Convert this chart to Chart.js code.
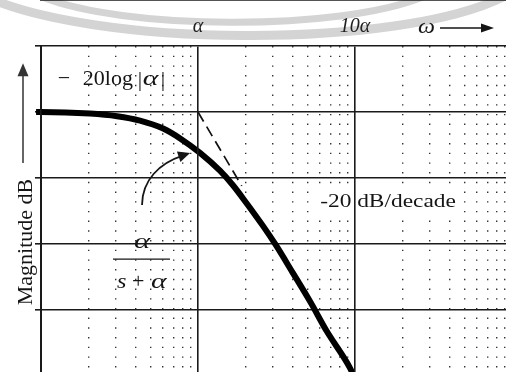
<!DOCTYPE html>
<html>
<head>
<meta charset="utf-8">
<script src="https://cdn.jsdelivr.net/npm/chart.js@4.4.1/dist/chart.umd.min.js"></script>
<style>
  html, body { margin: 0; padding: 0; background: #fff; overflow: hidden; }
  #wrap { width: 506px; height: 372px; }
</style>
</head>
<body>
<div id="wrap"><canvas id="bode" width="506" height="372"></canvas></div>
<script>
// frequency in multiples of alpha, magnitude in dB
const omega = [0.093, 0.1, 0.205, 0.305, 0.427, 0.6, 0.77, 1.03, 1.38, 1.67, 2.05, 2.6, 3.1, 4.0, 5.2, 6.6, 9.3, 9.9];
const magDb = [0, 0, -0.12, -0.32, -0.65, -1.25, -2.0, -3.1, -4.45, -5.55, -6.95, -8.65, -10.0, -12.15, -14.4, -16.6, -19.4, -20.1];

// straight-line asymptote after the corner
const asymOmega = [1, 1.9];
const asymDb = [0, -5.6];

// axis ticks
const majorTicks = [0.1, 1, 10];
const minorTicks = [0.2, 0.3, 0.4, 0.5, 0.6, 0.7, 0.8, 0.9,
                    2, 3, 4, 5, 6, 7, 8, 9,
                    20, 30, 40, 50, 60, 70, 80, 90];
const tickText = { 1: 'α', 10: '10α' };
const dbTicks = [5, 0, -5, -10, -15];

const SERIF = '"Liberation Serif", "Times New Roman", Times, serif';
const INK = '#151515';

function drawText(c, str, x, y, size, italic, sx) {
  c.save();
  c.font = (italic ? 'italic ' : '') + size + 'px ' + SERIF;
  c.translate(x, y);
  c.scale(sx || 1, 1);
  c.fillText(str, 0, 0);
  c.restore();
}

function arrowHead(c, tipX, tipY, fromX, fromY, len, half) {
  const a = Math.atan2(tipY - fromY, tipX - fromX);
  c.beginPath();
  c.moveTo(tipX, tipY);
  c.lineTo(tipX - len * Math.cos(a) + half * Math.sin(a), tipY - len * Math.sin(a) - half * Math.cos(a));
  c.lineTo(tipX - len * Math.cos(a) - half * Math.sin(a), tipY - len * Math.sin(a) + half * Math.cos(a));
  c.closePath();
  c.fill();
}

const decor = {
  id: 'decor',
  beforeDraw(chart) {
    const c = chart.ctx;
    c.save();
    c.fillStyle = '#fff';
    c.fillRect(0, 0, chart.width, chart.height);
    // faint rings across the header
    c.strokeStyle = '#d4d4d4';
    c.lineCap = 'butt';
    c.lineWidth = 9;
    c.beginPath();
    c.moveTo(-20, -6);
    c.bezierCurveTo(90, 48, 400, 50, 505, -4);
    c.stroke();
    c.lineWidth = 7;
    c.beginPath();
    c.moveTo(40, -4);
    c.bezierCurveTo(120, 30, 340, 32, 425, -4);
    c.stroke();
    c.restore();
  },
  beforeDatasetsDraw(chart) {
    // blank out the dotted grid behind the slope label
    const xs = chart.scales.x, ys = chart.scales.y, c = chart.ctx;
    const x = xs.getPixelForValue(6.0), y = ys.getPixelForValue(-7.2);
    c.save();
    c.fillStyle = '#fff';
    c.fillRect(x - 4, y - 21, 145, 27);
    c.restore();
  },
  afterDraw(chart) {
    const xs = chart.scales.x, ys = chart.scales.y, c = chart.ctx;
    const area = chart.chartArea;
    const at = (w, db) => [xs.getPixelForValue(w), ys.getPixelForValue(db)];
    c.save();
    c.fillStyle = INK;
    c.strokeStyle = INK;

    // -20 log|alpha|
    let [x, y] = at(0.128, 2.05);
    drawText(c, '−', x, y, 22);
    drawText(c, '20', x + 25, y, 22);
    drawText(c, 'log', x + 47, y, 22);
    drawText(c, '|', x + 80, y + 1, 22);
    drawText(c, 'α', x + 85, y, 22, true, 1.35);
    drawText(c, '|', x + 103, y + 1, 22);

    // transfer function alpha / (s + alpha)
    [x, y] = at(0.44, -11.15);
    c.textAlign = 'center';
    drawText(c, 'α', x, y - 11, 22, true, 1.4);
    c.textAlign = 'left';
    c.lineWidth = 1.3;
    c.beginPath(); c.moveTo(x - 29, y); c.lineTo(x + 28, y); c.stroke();
    drawText(c, 's', x - 25, y + 29, 22, true, 1.1);
    drawText(c, '+', x - 10, y + 29, 22);
    drawText(c, 'α', x + 9, y + 29, 22, true, 1.35);

    // curved pointer onto the magnitude curve
    const [tx, ty] = at(0.44, -7.05);
    const [hx, hy] = at(0.89, -3.1);
    c.lineWidth = 1.8;
    c.beginPath();
    c.moveTo(tx, ty);
    c.bezierCurveTo(tx, ty - 25, tx + 18, ty - 42, hx - 8, hy + 3);
    c.stroke();
    arrowHead(c, hx, hy, tx + 18, ty - 42, 12, 5.5);

    // slope label
    [x, y] = at(6.0, -7.2);
    drawText(c, '-20', x, y, 18, false, 1.3);
    drawText(c, 'dB/decade', x + 37, y, 18, false, 1.3);

    // vertical axis caption with arrow
    const capX = area.left - 9;
    c.save();
    c.translate(capX, ys.getPixelForValue(-9.85));
    c.rotate(-Math.PI / 2);
    c.textAlign = 'center';
    drawText(c, 'Magnitude dB', 0, 0, 22);
    c.restore();
    const ax = area.left - 18;
    const yBot = ys.getPixelForValue(-3.86), yTip = ys.getPixelForValue(3.7);
    c.strokeStyle = '#333';
    c.fillStyle = '#333';
    c.lineWidth = 1.5;
    c.beginPath(); c.moveTo(ax, yBot); c.lineTo(ax, yTip + 10); c.stroke();
    arrowHead(c, ax, yTip, ax, yBot, 13, 5.5);

    // omega with arrow along the top
    c.fillStyle = INK;
    c.strokeStyle = INK;
    const ox = xs.getPixelForValue(25.2), oy = area.top - 13;
    drawText(c, 'ω', ox, oy, 20, true, 1.2);
    c.lineWidth = 1.5;
    c.beginPath(); c.moveTo(ox + 22, oy - 5); c.lineTo(ox + 66, oy - 5); c.stroke();
    arrowHead(c, ox + 76, oy - 5, ox + 22, oy - 5, 13, 4.5);
    c.restore();
  }
};

new Chart(document.getElementById('bode'), {
  type: 'line',
  data: {
    datasets: [
      {
        label: 'magnitude',
        data: omega.map((w, i) => ({ x: w, y: magDb[i] })),
        borderColor: '#000',
        borderWidth: 6,
        pointRadius: 0,
        cubicInterpolationMode: 'monotone',
        clip: false
      },
      {
        label: 'asymptote',
        data: asymOmega.map((w, i) => ({ x: w, y: asymDb[i] })),
        borderColor: '#111',
        borderWidth: 1.7,
        borderDash: [11, 6],
        pointRadius: 0
      }
    ]
  },
  options: {
    responsive: false,
    animation: false,
    layout: { padding: 0 },
    plugins: { legend: { display: false }, tooltip: { enabled: false } },
    scales: {
      x: {
        type: 'logarithmic',
        position: 'top',
        min: 0.1,
        max: 91.6,
        afterBuildTicks: s => { s.ticks = majorTicks.map(v => ({ value: v })); },
        afterFit: s => { s.height = 46; },
        grid: { color: '#1a1a1a', lineWidth: 1.6, drawTicks: false, z: 1 },
        border: { display: true, color: '#1a1a1a', width: 1.6 },
        ticks: {
          autoSkip: false,
          maxRotation: 0,
          padding: 7,
          color: '#222',
          font: { family: SERIF, size: 20, style: 'italic' },
          callback: v => tickText[v] || ''
        }
      },
      xMinor: {
        type: 'logarithmic',
        position: 'top',
        min: 0.1,
        max: 91.6,
        afterBuildTicks: s => { s.ticks = minorTicks.map(v => ({ value: v })); },
        afterFit: s => { s.height = 0; },
        grid: { color: '#333', lineWidth: 1.4, drawTicks: false },
        border: { display: false, dash: [1.4, 8.3] },
        ticks: { display: false }
      },
      y: {
        min: -19.7,
        max: 5,
        afterBuildTicks: s => { s.ticks = dbTicks.map(v => ({ value: v })); },
        afterFit: s => { s.width = 41; },
        grid: { color: '#1a1a1a', lineWidth: 1.6, tickLength: 6 },
        border: { color: '#1a1a1a', width: 2 },
        ticks: { display: false }
      }
    }
  },
  plugins: [decor]
});
</script>
</body>
</html>
